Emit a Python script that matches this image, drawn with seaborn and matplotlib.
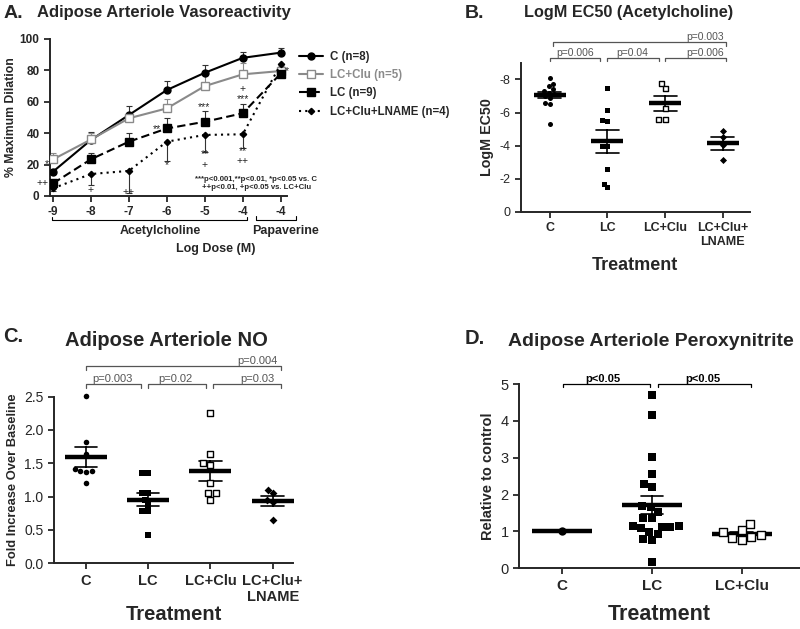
import numpy as np
import pandas as pd
import matplotlib
matplotlib.use("Agg")
import matplotlib.pyplot as plt
import seaborn as sns

sns.set_style("ticks")
plt.rcParams["font.family"] = ["Liberation Sans", "DejaVu Sans"]
plt.rcParams["axes.unicode_minus"] = False

# A. dose response (mean, SEM), % maximum dilation
dose_labels = ["-9", "-8", "-7", "-6", "-5", "-4", "-4"]
c_mean = [15.5, 35.7, 51.6, 67.5, 78.5, 88.0, 91.3]
c_sem = [2.0, 5.0, 6.0, 5.5, 5.0, 4.0, 3.0]
clu_mean = [23.3, 36.0, 49.5, 55.8, 70.0, 77.5, 79.6]
clu_sem = [4.3, 4.0, 3.0, 6.3, 7.0, 7.5, 3.0]
lc_mean = [8.0, 23.4, 34.6, 43.0, 47.3, 52.7, 78.0]
lc_sem = [2.0, 4.2, 5.4, 6.5, 6.7, 5.7, 3.0]
lname_mean = [4.9, 14.0, 16.0, 34.6, 38.9, 39.3, 84.0]
lname_sem = [2.0, 7.0, 14.0, 12.6, 10.7, 9.0, 2.0]

# B. LogM EC50 individual values
groups4 = ["C", "LC", "LC+Clu", "LC+Clu+\nLNAME"]
b_c = [-8.1, -7.75, -7.6, -7.4, -7.3, -7.2, -7.1, -7.0, -6.9, -6.6, -6.5, -5.3]
b_lc = [-7.49, -6.14, -5.58, -5.5, -4.0, -4.0, -2.57, -1.69, -1.49]
b_clu = [-7.79, -7.49, -6.25, -5.62, -5.62]
b_lname = [-4.9, -4.54, -4.03, -3.13]

# C. NO, fold increase over baseline
c_c = [2.51, 1.82, 1.64, 1.42, 1.39, 1.37, 1.39, 1.2]
c_lc = [1.35, 1.35, 1.05, 1.05, 0.95, 0.88, 0.78, 0.78, 0.42]
c_clu = [2.25, 1.64, 1.5, 1.47, 1.2, 1.05, 1.05, 0.95]
c_lname = [1.1, 1.06, 0.95, 0.92, 0.65]

# D. peroxynitrite relative to control
groups3 = ["C", "LC", "LC+Clu"]
d_c = [1.0]
d_lc = [4.71, 4.17, 3.02, 2.57, 2.28, 2.2, 1.69, 1.67, 1.53, 1.37, 1.37,
        1.15, 1.15, 1.13, 1.13, 1.08, 0.99, 0.93, 0.8, 0.76, 0.18]
d_clu = [1.2, 1.05, 0.98, 0.9, 0.86, 0.83, 0.77]


def long_df(groups, values):
    return pd.DataFrame({
        "group": np.repeat(groups, [len(v) for v in values]),
        "value": np.concatenate(values),
    })


def style_axis(ax, xfs=8, yfs=8, bold_y=False):
    sns.despine(ax=ax)
    for s in ["left", "bottom"]:
        ax.spines[s].set_linewidth(1.4)
    ax.tick_params(width=1.3, length=4)
    ax.tick_params(axis="x", labelsize=xfs)
    ax.tick_params(axis="y", labelsize=yfs)
    for lab in ax.get_xticklabels():
        lab.set_fontweight("bold")
    if bold_y:
        for lab in ax.get_yticklabels():
            lab.set_fontweight("bold")


def scatter_panel(ax, df, order, marks, size, bar_len, capsize):
    for g, (m, face) in zip(order, marks):
        sns.swarmplot(data=df[df["group"] == g], x="group", y="value", order=order,
                      marker=m, color=face, edgecolor="black",
                      linewidth=1 if face == "white" else 0, size=size, ax=ax)
    sns.pointplot(data=df, x="group", y="value", order=order, errorbar="se",
                  capsize=capsize, color="black", marker="_", markersize=bar_len,
                  markeredgewidth=3.2, linestyle="none",
                  err_kws={"linewidth": 1.2}, ax=ax)
    for coll in ax.collections:
        coll.set_clip_on(False)
    ax.set_xlabel("")
    ax.set_ylabel("")


def bracket(ax, x1, x2, y, drop, text, tx, color="#555555", weight="normal", fs=7.5):
    ax.plot([x1, x1, x2, x2], [y - drop, y, y, y - drop], color=color, lw=0.9,
            clip_on=False)
    ax.text(tx, y, text, ha="center", va="bottom", fontsize=fs, color=color,
            fontweight=weight, clip_on=False)


fig = plt.figure(figsize=(8, 6.29), dpi=100)

# ---------------- panel A
axA = fig.add_axes([0.0625, 0.6884, 0.296, 0.2496])
pos = np.arange(len(dose_labels))
series = [
    ("C (n=8)", c_mean, c_sem, "black", "-", "o", "black", 5, 1),
    ("LC+Clu (n=5)", clu_mean, clu_sem, "#8a8a8a", "-", "s", "white", 5.5, 1),
    ("LC (n=9)", lc_mean, lc_sem, "black", (0, (4, 2)), "s", "black", 5.5, 1),
    ("LC+Clu+LNAME (n=4)", lname_mean, lname_sem, "black", (0, (1, 2)), "D", "black", 3.2, -1),
]
for label, m, e, col, ls, mk, face, ms, side in series:
    sns.lineplot(x=pos, y=m, ax=axA, color=col, linestyle=ls, linewidth=1.5,
                 marker=mk, markersize=ms, markerfacecolor=face,
                 markeredgecolor=col, markeredgewidth=1, label=label, zorder=3)
    err = [np.zeros(len(e)), e] if side > 0 else [e, np.zeros(len(e))]
    axA.errorbar(pos, m, yerr=err, fmt="none", ecolor=col if col != "black" else "#333333",
                 elinewidth=0.8, capsize=2.5, capthick=0.8, zorder=2)
axA.set_xlim(-0.079, 6.16)
axA.set_ylim(0, 100)
axA.set_xticks(pos)
axA.set_xticklabels(dose_labels)
axA.set_yticks(range(0, 101, 20))
axA.set_ylabel("% Maximum Dilation", fontsize=8.8, fontweight="bold", labelpad=2)
axA.set_xlabel("")
style_axis(axA, xfs=8.5, yfs=8.5, bold_y=True)

leg = axA.legend(loc="upper left", bbox_to_anchor=(293 / 800, 1 - 45 / 629),
                 bbox_transform=fig.transFigure, frameon=False, fontsize=8.3,
                 handlelength=2.1, labelspacing=0.55, borderpad=0, handletextpad=0.6)
for t in leg.get_texts():
    t.set_fontweight("bold")
leg.get_texts()[1].set_color("#8a8a8a")

marks_a = [("**", 2.85, 42.7, "right"), ("***", 3.98, 56.5, "center"),
           ("+", 5.0, 68.0, "center"), ("***", 5.0, 61.5, "center"),
           ("*", 3.0, 19.5, "center"), ("**", 4.0, 26.5, "center"),
           ("+", 4.0, 20.0, "center"), ("**", 5.0, 28.5, "center"),
           ("++", 5.0, 22.5, "center"), ("+", 1.0, 4.0, "center"),
           ("++", 1.98, 2.5, "center"), ("++", -0.12, 8.5, "right"),
           ("*", -0.12, 20.5, "right"), ("*", 6.12, 79.8, "left")]
for txt, x, y, ha in marks_a:
    axA.text(x, y, txt, ha=ha, va="center", fontsize=7.5, clip_on=False)
axA.text(5.36, 10.8, "***p<0.001,**p<0.01, *p<0.05 vs. C", ha="center", va="center",
         fontsize=5.6, fontweight="bold")
axA.text(5.36, 5.3, "++p<0.01, +p<0.05 vs. LC+Clu", ha="center", va="center",
         fontsize=5.6, fontweight="bold")
axA.plot([-0.03, -0.03, 5.1, 5.1], [-13.2, -15.3, -15.3, -13.2], color="black",
         lw=0.8, clip_on=False)
axA.plot([5.34, 5.34, 6.41, 6.41], [-13.0, -15.1, -15.1, -13.0], color="black",
         lw=0.8, clip_on=False)
axA.text(2.82, -22.5, "Acetylcholine", ha="center", va="center", fontsize=9,
         fontweight="bold", clip_on=False)
axA.text(6.13, -22.0, "Papaverine", ha="center", va="center", fontsize=9,
         fontweight="bold", clip_on=False)
axA.text(4.29, -33.5, "Log Dose (M)", ha="center", va="center", fontsize=9,
         fontweight="bold", clip_on=False)

# ---------------- panel B
axB = fig.add_axes([0.651, 0.663, 0.286, 0.237])
dfB = long_df(groups4, [b_c, b_lc, b_clu, b_lname])
scatter_panel(axB, dfB, groups4,
              [("o", "black"), ("s", "black"), ("s", "white"), ("D", "black")],
              3.6, 23, 0.4)
axB.set_ylim(0, -9)
axB.set_yticks([0, -2, -4, -6, -8])
axB.set_xlim(-0.503, 3.466)
axB.set_ylabel("LogM EC50", fontsize=10.3, fontweight="bold")
axB.set_xlabel("Treatment", fontsize=13, fontweight="bold", labelpad=6)
style_axis(axB, xfs=9, yfs=9)
bracket(axB, 0.0, 0.87, -9.32, -0.22, "p=0.006", 0.44)
bracket(axB, 0.99, 1.89, -9.32, -0.22, "p=0.04", 1.43)
bracket(axB, 1.99, 3.05, -9.32, -0.22, "p=0.006", 2.69)
bracket(axB, 0.05, 3.05, -10.26, -0.22, "p=0.003", 2.69)

# ---------------- panel C
axC = fig.add_axes([0.0675, 0.1044, 0.299, 0.265])
dfC = long_df(groups4, [c_c, c_lc, c_clu, c_lname])
scatter_panel(axC, dfC, groups4,
              [("o", "black"), ("s", "black"), ("s", "white"), ("D", "black")],
              4.0, 30, 0.36)
axC.set_ylim(0, 2.5)
axC.set_yticks(np.arange(0, 2.51, 0.5))
axC.set_yticklabels([f"{v:.1f}" for v in np.arange(0, 2.51, 0.5)])
axC.set_xlim(-0.514, 3.33)
axC.set_ylabel("Fold Increase Over Baseline", fontsize=9.3, fontweight="bold")
axC.set_xlabel("Treatment", fontsize=14.5, fontweight="bold", labelpad=1)
style_axis(axC, xfs=10.5, yfs=10)
bracket(axC, 0.0, 0.885, 2.69, 0.06, "p=0.003", 0.43, fs=8)
bracket(axC, 1.0, 1.93, 2.69, 0.06, "p=0.02", 1.43, fs=8)
bracket(axC, 2.04, 3.13, 2.69, 0.06, "p=0.03", 2.75, fs=8)
bracket(axC, 0.0, 3.13, 2.96, 0.06, "p=0.004", 2.75, fs=8)

# ---------------- panel D
axD = fig.add_axes([0.649, 0.0965, 0.351, 0.293])
dfD = long_df(groups3, [d_c, d_lc, d_clu])
scatter_panel(axD, dfD, groups3, [("o", "black"), ("s", "black"), ("s", "white")],
              6.0, 43, 0.25)
axD.set_ylim(0, 5)
axD.set_xlim(-0.474, 2.648)
axD.set_ylabel("Relative to control", fontsize=10.5, fontweight="bold")
axD.set_xlabel("Treatment", fontsize=15.5, fontweight="bold", labelpad=8)
style_axis(axD, xfs=11, yfs=10.5)
bracket(axD, 0.01, 0.98, 5.0, 0.08, "p<0.05", 0.46, color="black", weight="bold", fs=8)
bracket(axD, 1.07, 2.1, 5.0, 0.08, "p<0.05", 1.57, color="black", weight="bold", fs=8)

# panel titles
fig.text(4 / 800, 1 - 13 / 629, "A.", fontsize=14, fontweight="bold", va="center")
fig.text(37 / 800, 1 - 13 / 629, "Adipose Arteriole Vasoreactivity", fontsize=12,
         fontweight="bold", va="center")
fig.text(465 / 800, 1 - 13 / 629, "B.", fontsize=14, fontweight="bold", va="center")
fig.text(524 / 800, 1 - 13 / 629, "LogM EC50 (Acetylcholine)", fontsize=11.7,
         fontweight="bold", va="center")
fig.text(3 / 800, 1 - 336 / 629, "C.", fontsize=14.5, fontweight="bold", va="center")
fig.text(65 / 800, 1 - 340 / 629, "Adipose Arteriole NO", fontsize=14.5,
         fontweight="bold", va="center")
fig.text(465 / 800, 1 - 338 / 629, "D.", fontsize=14.5, fontweight="bold", va="center")
fig.text(508 / 800, 1 - 341 / 629, "Adipose Arteriole Peroxynitrite", fontsize=14,
         fontweight="bold", va="center")

fig.savefig("out.png", dpi=100)
